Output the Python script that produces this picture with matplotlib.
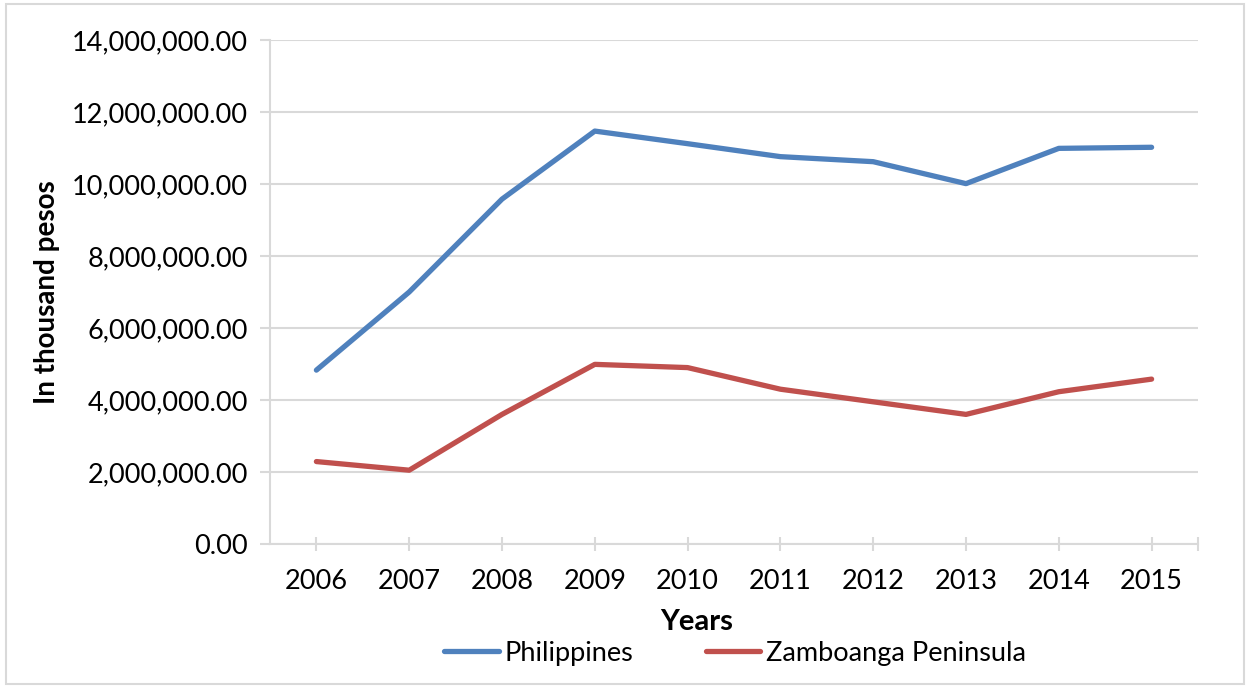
import matplotlib
matplotlib.use("Agg")
import matplotlib.pyplot as plt
from matplotlib.patches import Rectangle
from matplotlib.ticker import FuncFormatter

years = ["2006", "2007", "2008", "2009", "2010", "2011", "2012", "2013", "2014", "2015"]
philippines = [4830000, 7000000, 9580000, 11470000, 11120000, 10760000, 10620000, 10010000, 10990000, 11020000]
zamboanga = [2290000, 2050000, 3600000, 4990000, 4900000, 4300000, 3950000, 3600000, 4230000, 4580000]

plt.rcParams['font.family'] = ['Lato', 'DejaVu Sans']
grid_c = '#d9d9d9'

fig = plt.figure(figsize=(12.5, 6.87), dpi=100)
fig.patches.append(Rectangle((6/1250, 1 - 684/687), 1238/1250, 680/687, transform=fig.transFigure,
                             fill=False, edgecolor=grid_c, linewidth=1.5))
ax = fig.add_axes([270/1250, 1 - 544/687, 928/1250, 504/687])

x = list(range(len(years)))
ax.plot(x, philippines, color='#4f81bd', linewidth=3.8, solid_capstyle='round', label='Philippines')
ax.plot(x, zamboanga, color='#c0504d', linewidth=3.8, solid_capstyle='round', label='Zamboanga Peninsula')

ax.set_xlim(-0.5, 9.5)
ax.set_ylim(0, 14000000)
ax.set_yticks(range(0, 14000001, 2000000))
ax.yaxis.set_major_formatter(FuncFormatter(lambda v, p: f"{v:,.2f}"))
ax.set_xticks(x + [9.5])
ax.set_xticklabels(years + [""])
ax.grid(axis='y', color=grid_c, linewidth=1.5)
ax.set_axisbelow(True)
for s in ['top', 'right']:
    ax.spines[s].set_visible(False)
for s in ['left', 'bottom']:
    ax.spines[s].set_color(grid_c)
    ax.spines[s].set_linewidth(1.5)
ax.tick_params(axis='y', length=7, width=1.5, color=grid_c, labelsize=19.5, pad=9)
ax.tick_params(axis='x', direction='inout', length=9.5, width=1.5, color=grid_c, labelsize=19.5, pad=13)

ax.set_xlabel('Years', fontsize=21, fontweight='bold')
ax.xaxis.set_label_coords((697 - 270) / 928, (544 - 609) / 504)
ax.set_ylabel('In thousand pesos', fontsize=20, fontweight='bold')
ax.yaxis.set_label_coords((60 - 270) / 928, 0.5)

fig.legend(loc='center', bbox_to_anchor=(735/1250, 1 - 653/687), ncol=2, frameon=False,
           fontsize=19.5, handlelength=2.0, handletextpad=0.2, columnspacing=2.7)

fig.savefig('out.png', dpi=100)
